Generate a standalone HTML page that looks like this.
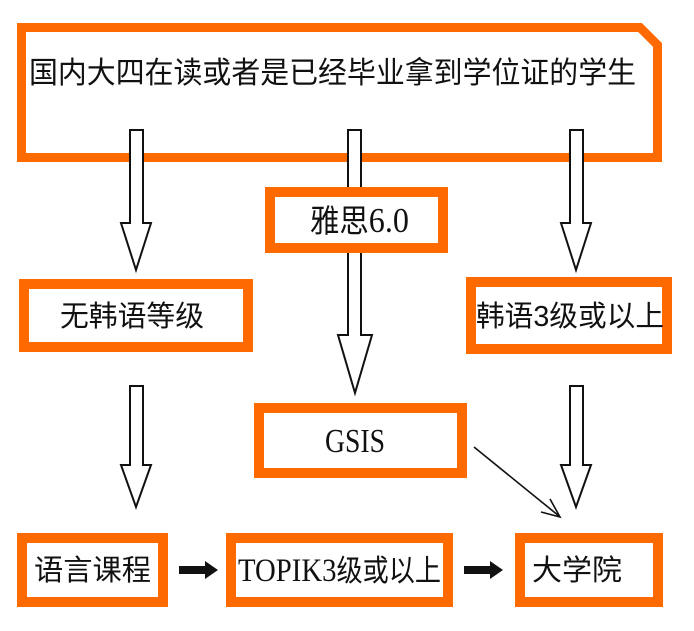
<!DOCTYPE html>
<html><head><meta charset="utf-8"><style>
html,body{margin:0;padding:0;background:#fff;}
svg{display:block;}
text{font-family:"Liberation Sans","Noto Sans CJK SC",sans-serif;fill:#111;}
.s{font-family:"Liberation Serif","Noto Sans CJK SC",serif;}
</style></head><body>
<svg width="694" height="631" viewBox="0 0 694 631" xmlns="http://www.w3.org/2000/svg">
<path d="M21.5 27.5 H640 L657.5 45 V157.5 H21.5 Z" fill="#fff" stroke="#ff6a00" stroke-width="9"/>
<text x="29" y="83" font-size="30" textLength="607" lengthAdjust="spacingAndGlyphs">国内大四在读或者是已经毕业拿到学位证的学生</text>

<g fill="#fff" stroke="#111" stroke-width="2">
<path d="M130 130 H143 V223 H151 L136 270 L121 223 H130 Z"/>
<path d="M348 130 H361 V335 H372 L355 393 L338 335 H348 Z"/>
<path d="M570 130 H583 V223 H591 L576 270 L561 223 H570 Z"/>
<path d="M130 386 H143 V465 H151 L136 507 L121 465 H130 Z"/>
<path d="M570 386 H583 V465 H591 L576 507 L561 465 H570 Z"/>
</g>

<g fill="#fff" stroke="#ff6a00" stroke-width="10">
<rect x="270" y="192" width="173" height="56"/>
<rect x="24" y="284" width="224" height="63"/>
<rect x="471" y="282" width="196" height="67"/>
<rect x="259" y="408" width="203" height="65"/>
<rect x="22" y="538" width="141" height="64"/>
<rect x="231" y="538" width="217" height="64"/>
<rect x="520" y="538" width="138" height="64"/>
</g>
<text x="310" y="232" font-size="32" textLength="99" lengthAdjust="spacingAndGlyphs">雅思<tspan class="s" font-size="35">6.0</tspan></text>
<text x="60" y="326" font-size="29" textLength="144" lengthAdjust="spacingAndGlyphs">无韩语等级</text>
<text x="476" y="326" font-size="29" textLength="188" lengthAdjust="spacingAndGlyphs">韩语3级或以上</text>
<text class="s" x="325" y="452" font-size="34" textLength="60" lengthAdjust="spacingAndGlyphs">GSIS</text>
<text x="34" y="580" font-size="29" textLength="117" lengthAdjust="spacingAndGlyphs">语言课程</text>
<text x="238" y="581" font-size="30" textLength="203" lengthAdjust="spacingAndGlyphs"><tspan class="s" font-size="33">TOPIK3</tspan>级或以上</text>
<text x="532" y="580" font-size="29" textLength="90" lengthAdjust="spacingAndGlyphs">大学院</text>

<line x1="474" y1="447" x2="559" y2="516" stroke="#111" stroke-width="1.6"/>
<path d="M550 499 L560 517 L541 512" fill="none" stroke="#111" stroke-width="1.6"/>

<path d="M179 566 H205 V561 L218 570 L205 579 V574 H179 Z" fill="#111"/>
<path d="M464 566 H490 V561 L503 570 L490 579 V574 H464 Z" fill="#111"/>
</svg>
</body></html>
